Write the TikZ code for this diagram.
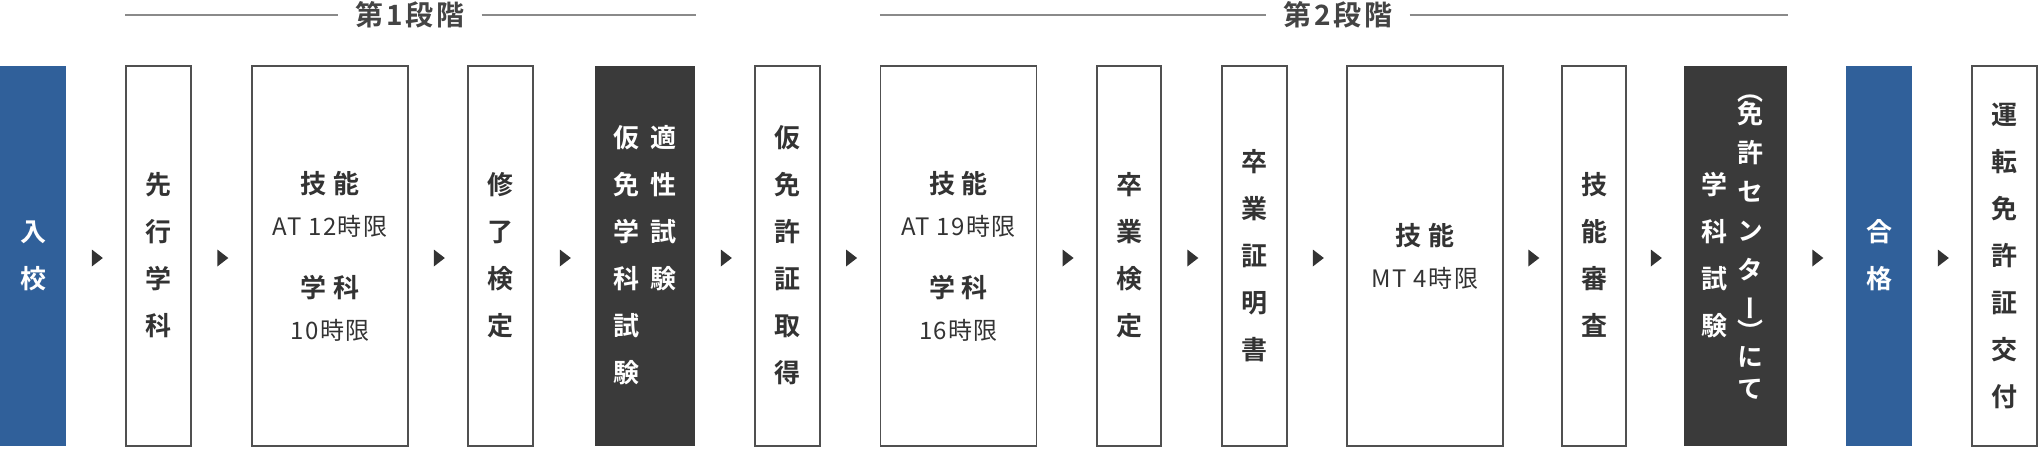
\documentclass[tikz,border=0pt]{standalone}
\usepackage{fontspec}
\usetikzlibrary{shapes.geometric}
\newfontfamily\jpbold{Noto Sans CJK JP}[UprightFont=* Bold]
\newfontfamily\jptitle{Noto Sans CJK JP}[UprightFont=* Bold, LetterSpace=25]
\newfontfamily\jphead{Noto Sans CJK JP}[UprightFont=* Bold, LetterSpace=10]
\newfontfamily\jpreg{Noto Sans CJK JP}[LetterSpace=6]
\newfontfamily\jpvert{Noto Sans CJK JP}[UprightFont=* Bold, RawFeature=+vert]
\definecolor{schoolblue}{HTML}{30609A}
\definecolor{examdark}{HTML}{3A3A3A}
\definecolor{boxline}{HTML}{505050}
\definecolor{ink}{HTML}{333333}
\definecolor{headgray}{HTML}{444444}
\definecolor{rulegray}{HTML}{8A8A8A}
\newcommand{\vcol}[2][c]{\begin{tabular}[#1]{@{}c@{}}#2\end{tabular}}
\newcommand{\hrs}[1]{{\jpreg\fontsize{24pt}{42pt}\selectfont #1}}
\begin{document}
\begin{tikzpicture}[x=1pt, y=-1pt,
    box/.style={draw=boxline, line width=1.5pt, minimum height=380pt, inner sep=0pt,
      text=ink, align=center, font=\jpbold\fontsize{26pt}{47pt}\selectfont},
    narrow/.style={box, minimum width=65pt},
    wide/.style={box, minimum width=156pt, font=\jptitle\fontsize{26pt}{42pt}\selectfont},
    filled/.style={box, draw=none, fill=#1, text=white},
    flowtip/.style={isosceles triangle, isosceles triangle stretches, fill=ink,
      inner sep=0pt, minimum width=17pt, minimum height=11pt, yshift=-2pt},
    stage/.style={inner xsep=17pt, inner ysep=0pt, text=headgray,
      font=\jphead\fontsize{28pt}{28pt}\selectfont},
    stageline/.style={draw=rulegray, line width=2pt}]
  \useasboundingbox (0,0) rectangle (2038,448);

  % steps, left to right
  \node[filled=schoolblue, minimum width=66pt] (nyuko) at (33,256) {\vcol{入\\校}};
  \node[narrow] (senko) at (158.5,256) {\vcol{先\\行\\学\\科}};
  \node[wide] (gino1) at (330,256) {技能\\\hrs{AT 12時限}\\[20pt]学科\\\hrs{10時限}};
  \node[narrow] (shuryo) at (500.5,256) {\vcol{修\\了\\検\\定}};
  \node[filled=examdark, minimum width=100pt] (karimen) at (645,256)
    {\vcol[t]{仮\\免\\学\\科\\試\\験}\hspace{11pt}\vcol[t]{適\\性\\試\\験}};
  \node[narrow] (karisho) at (787.5,256) {\vcol{仮\\免\\許\\証\\取\\得}};
  \node[wide] (gino2) at (958.5,256) {技能\\\hrs{AT 19時限}\\[20pt]学科\\\hrs{16時限}};
  \node[narrow, minimum width=64pt] (sotsuken) at (1129,256) {\vcol{卒\\業\\検\\定}};
  \node[narrow] (sotsusho) at (1254.5,256) {\vcol{卒\\業\\証\\明\\書}};
  \node[wide] (ginomt) at (1425,256) {技能\\\hrs{MT 4時限}};
  \node[narrow, minimum width=64pt] (shinsa) at (1594,256) {\vcol{技\\能\\審\\査}};
  \node[filled=examdark, minimum width=103pt] (gakka) at (1735.5,256) {};
  \node[text=white, font=\jpbold\fontsize{26pt}{47pt}\selectfont]
    (gakkaL) at ([xshift=-21pt]gakka.center) {\vcol{学\\科\\試\\験}};
  \node[text=white, font=\jpvert\fontsize{26pt}{39pt}\selectfont]
    (gakkaR) at ([xshift=15pt, yshift=14pt]gakka.center)
    {\vcol{（\\[-16pt]免\\許\\セ\\ン\\タ\\ー\\[-16pt]）\\[-14pt]に\\[-7pt]て}};
  \node[filled=schoolblue, minimum width=66pt] (gokaku) at (1879,256) {\vcol{合\\格}};
  \node[narrow] (unten) at (2004.5,256) {\vcol{運\\転\\免\\許\\証\\交\\付}};

  \foreach \a/\b in {nyuko/senko, senko/gino1, gino1/shuryo, shuryo/karimen,
      karimen/karisho, karisho/gino2, gino2/sotsuken, sotsuken/sotsusho,
      sotsusho/ginomt, ginomt/shinsa, shinsa/gakka, gakka/gokaku, gokaku/unten}
    \path (\a) -- node[flowtip] {} (\b);

  % stages
  \node[stage] (stage1) at (410,15) {第1段階};
  \node[stage] (stage2) at (1338,15) {第2段階};
  \draw[stageline] (senko.west |- stage1) -- (stage1);
  \draw[stageline] (stage1) -- (karimen.east |- stage1);
  \draw[stageline] (gino2.west |- stage2) -- (stage2);
  \draw[stageline] (stage2) -- (gakka.east |- stage2);
\end{tikzpicture}
\end{document}
